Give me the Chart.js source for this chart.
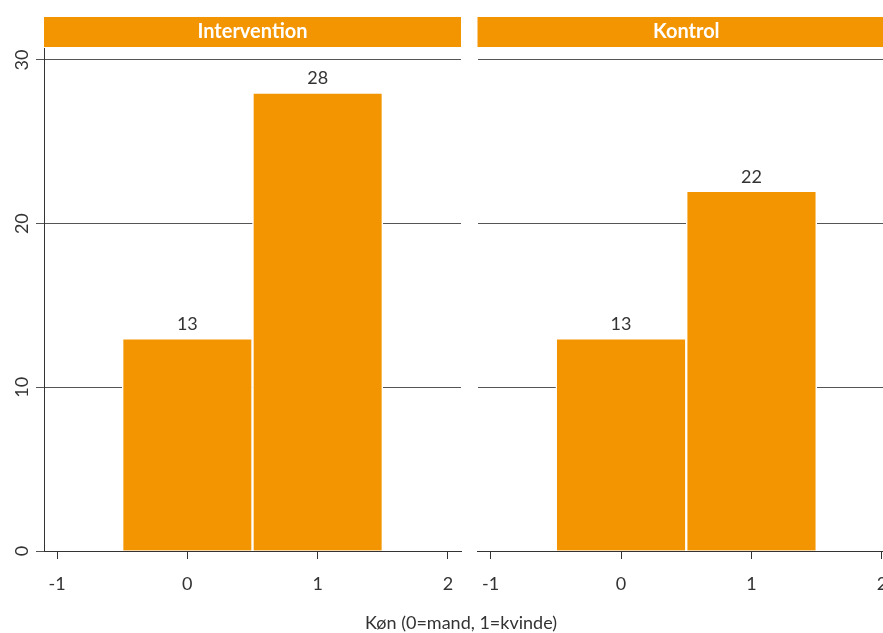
<!DOCTYPE html>
<html>
<head>
<meta charset="utf-8">
<script src="https://cdn.jsdelivr.net/npm/chart.js@4/dist/chart.umd.min.js"></script>
<style>
  html, body { margin: 0; padding: 0; background: #fff; overflow: hidden; }
  #wrap { position: relative; width: 883px; height: 633px; overflow: hidden; }
  #leftBox { position: absolute; left: 0; top: 0; width: 470px; height: 633px; }
  #rightBox { position: absolute; left: 468px; top: 0; width: 415px; height: 633px; overflow: hidden; }
  #xTitle { position: absolute; left: 0; width: 922px; top: 611px; text-align: center;
            font-family: Lato, sans-serif; font-size: 18px; color: #333; }
</style>
</head>
<body>
<div id="wrap">
  <div id="leftBox"><canvas id="leftChart" width="470" height="633"></canvas></div>
  <div id="rightBox"><canvas id="rightChart" width="440" height="633"></canvas></div>
  <div id="xTitle">Køn (0=mand, 1=kvinde)</div>
</div>
<script>
const categories = [0, 1];
const intervention = [13, 28];
const kontrol = [13, 22];
const yTicks = [0, 10, 20, 30];
const xTicks = [-1, 0, 1, 2];
const panelTitles = ['Intervention', 'Kontrol'];

const ORANGE = '#F39500';
const INK = '#333333';
const FONT = 'Lato, sans-serif';

// orange header strip above each panel
const stripPlugin = {
    id: 'strip',
    beforeDraw(chart, args, opts) {
        const { ctx, chartArea } = chart;
        ctx.save();
        ctx.fillStyle = ORANGE;
        ctx.fillRect(chartArea.left, 17, chartArea.right - chartArea.left, 30);
        ctx.fillStyle = '#fff';
        ctx.font = 'bold 20px ' + FONT;
        ctx.textAlign = 'center';
        ctx.textBaseline = 'middle';
        ctx.fillText(opts.text, (chartArea.left + chartArea.right) / 2, 32);
        ctx.restore();
    }
};

// counts above bars
const valueLabels = {
    id: 'valueLabels',
    afterDatasetsDraw(chart) {
        const { ctx } = chart;
        const meta = chart.getDatasetMeta(0);
        ctx.save();
        ctx.fillStyle = INK;
        ctx.font = '18px ' + FONT;
        ctx.textAlign = 'center';
        ctx.textBaseline = 'bottom';
        meta.data.forEach((bar, i) => {
            ctx.fillText(chart.data.datasets[0].data[i].y, bar.x, bar.y - 5);
        });
        ctx.restore();
    }
};

function makeChart(id, values, title, showY, padRight) {
    return new Chart(document.getElementById(id), {
        type: 'bar',
        data: {
            datasets: [{
                data: categories.map((c, i) => ({ x: c, y: values[i] })),
                backgroundColor: ORANGE,
                borderColor: '#ffffff',
                borderWidth: 1.5,
                barPercentage: 1,
                categoryPercentage: 1,
                grouped: false
            }]
        },
        options: {
            responsive: false,
            animation: false,
            layout: { padding: { top: 48, right: padRight, left: 0, bottom: 0 } },
            plugins: {
                legend: { display: false },
                tooltip: { enabled: false },
                strip: { text: title }
            },
            scales: {
                x: {
                    type: 'linear',
                    min: -1.1,
                    max: 2.1,
                    offset: false,
                    afterBuildTicks: (s) => { s.ticks = xTicks.map(v => ({ value: v })); },
                    afterFit: (s) => { s.height = 82; },
                    grid: { display: true, drawOnChartArea: false, offset: false, tickLength: 8, color: INK },
                    border: { display: true, color: INK, width: 1 },
                    ticks: { font: { family: FONT, size: 18 }, color: INK, padding: 14, maxRotation: 0 }
                },
                y: {
                    min: 0,
                    max: 30.73,
                    afterBuildTicks: (s) => { s.ticks = yTicks.map(v => ({ value: v })); },
                    afterFit: (s) => { s.width = showY ? 44 : 0; },
                    grid: { color: '#555555', lineWidth: 1, drawTicks: showY, tickLength: 8 },
                    border: { display: showY, color: INK, width: 1 },
                    ticks: {
                        display: showY,
                        font: { family: FONT, size: 18 },
                        color: INK,
                        minRotation: 90,
                        maxRotation: 90,
                        crossAlign: 'center',
                        padding: 3
                    }
                }
            }
        },
        plugins: [stripPlugin, valueLabels]
    });
}

makeChart('leftChart', intervention, panelTitles[0], true, 9);
makeChart('rightChart', kontrol, panelTitles[1], false, 13);
</script>
</body>
</html>
